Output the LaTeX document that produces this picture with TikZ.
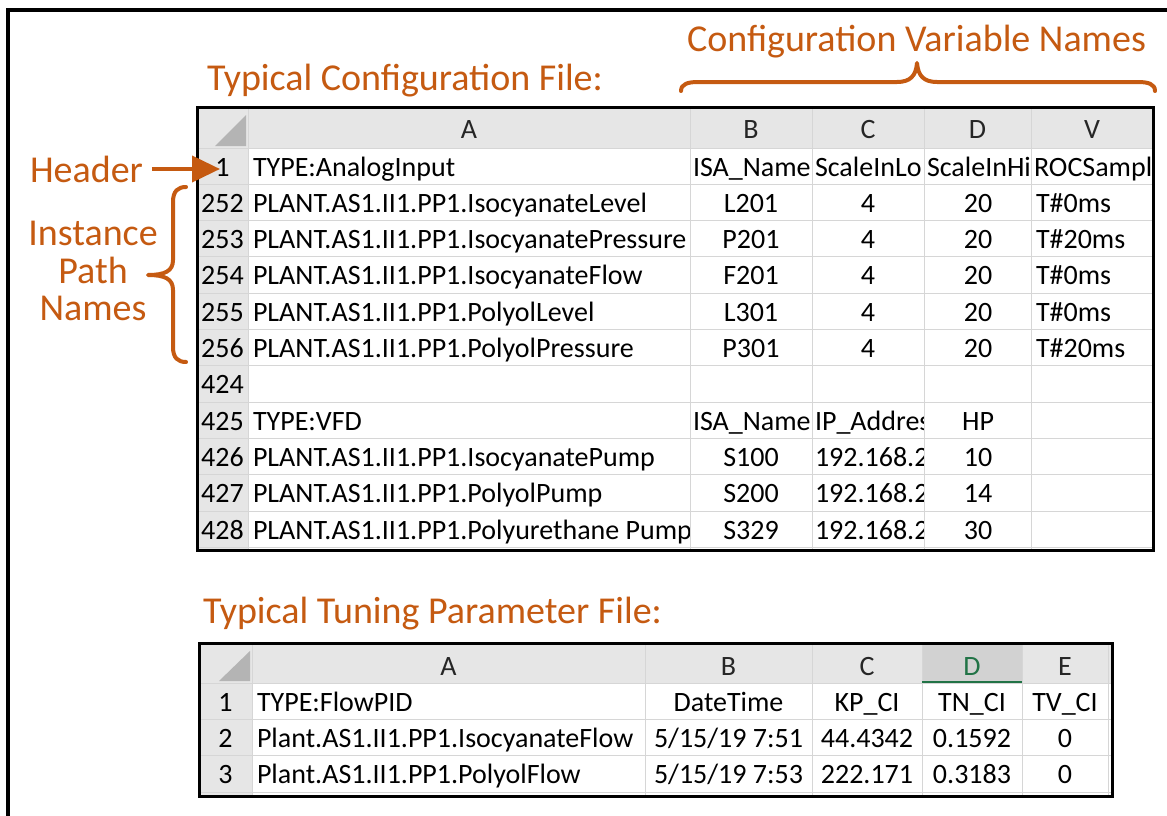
\documentclass[tikz,border=0pt]{standalone}
\usepackage{fontspec}
\setmainfont{Carlito}
\usetikzlibrary{arrows.meta}
\definecolor{org}{RGB}{197,90,17}
\definecolor{hdrbg}{RGB}{230,230,230}
\definecolor{hdsel}{RGB}{210,210,210}
\definecolor{gridc}{RGB}{214,214,214}
\definecolor{cornergray}{RGB}{180,180,180}
\definecolor{hdtext}{RGB}{38,38,38}
\definecolor{xlgreen}{RGB}{33,115,70}
\newcommand\cellfont{\fontsize{28}{32}\selectfont}
\newcommand\lblfont{\fontsize{38}{40}\selectfont}
\tikzset{
  xcell/.style={font=\cellfont, text=black, inner sep=0pt, outer sep=0pt},
  colhd/.style={font=\cellfont, text=hdtext, inner sep=0pt, outer sep=0pt, anchor=base},
  lbl/.style={font=\lblfont, text=org, inner sep=0pt, outer sep=0pt},
  gridln/.style={draw=gridc, line width=1pt},
  tblborder/.style={draw=black, line width=3pt},
  arr/.style={draw=org, line width=4pt, -{Triangle[length=28pt,width=26pt]}},
  bracestyle/.style={draw=org, line width=4pt, line cap=round, line join=round},
}
\begin{document}
\begin{tikzpicture}[x=1pt,y=-1pt]
\useasboundingbox (0,0) rectangle (1167,816);
\fill[white] (0,0) rectangle (1167,816);
% outer frame
\draw[line width=4pt] (8,830) -- (8,10) -- (1180,10);

% ================= Table 1 =================
\fill[white] (197,107) rectangle (1153,550);
\fill[hdrbg] (197,107) rectangle (1153,148);
\fill[hdrbg] (197,148) rectangle (248,550);
\fill[cornergray] (215,146) -- (246,146) -- (246,115) -- cycle;
\foreach \x in {248,690,812,924,1031} \draw[gridln] (\x,107) -- (\x,550);
\foreach \i in {0,...,11} \draw[gridln] (197,{148+36.3*\i}) -- (1153,{148+36.3*\i});
% column letters
\node[colhd] (t1hA) at (469,138) {A};
\node[colhd] (t1hB) at (751,138) {B};
\node[colhd] (t1hC) at (868,138) {C};
\node[colhd] (t1hD) at (977.5,138) {D};
\node[colhd] (t1hV) at (1092,138) {V};
% row numbers
\foreach \i/\n in {0/1,1/252,2/253,3/254,4/255,5/256,6/424,7/425,8/426,9/427,10/428}
  \node[xcell, anchor=base] (t1n\i) at (222.5,{176+36.3*\i}) {\n};
% column A
\begin{scope}
\clip (248,148) rectangle (689,550);
\foreach \i/\t in {0/TYPE:AnalogInput,
  1/PLANT.AS1.II1.PP1.IsocyanateLevel,
  2/PLANT.AS1.II1.PP1.IsocyanatePressure,
  3/PLANT.AS1.II1.PP1.IsocyanateFlow,
  4/PLANT.AS1.II1.PP1.PolyolLevel,
  5/PLANT.AS1.II1.PP1.PolyolPressure,
  7/TYPE:VFD,
  8/PLANT.AS1.II1.PP1.IsocyanatePump,
  9/PLANT.AS1.II1.PP1.PolyolPump,
  10/PLANT.AS1.II1.PP1.Polyurethane Pump}
  \node[xcell, anchor=base west] (t1a\i) at (253,{176+36.3*\i}) {\t};
\end{scope}
% column B
\node[xcell, anchor=base west] (t1b0) at (693,176) {ISA\_Name};
\node[xcell, anchor=base west] (t1b7) at (693,{176+36.3*7}) {ISA\_Name};
\foreach \i/\t in {1/L201,2/P201,3/F201,4/L301,5/P301,8/S100,9/S200,10/S329}
  \node[xcell, anchor=base] (t1b\i) at (751,{176+36.3*\i}) {\t};
% column C
\node[xcell, anchor=base west] (t1c0) at (815,176) {ScaleInLo};
\foreach \i in {1,...,5}
  \node[xcell, anchor=base] (t1c\i) at (868,{176+36.3*\i}) {4};
\begin{scope}
\clip (812,148) rectangle (923,550);
\node[xcell, anchor=base west] (t1c7) at (815,{176+36.3*7}) {IP\_Addres};
\foreach \i in {8,9,10}
  \node[xcell, anchor=base west] (t1c\i) at (815,{176+36.3*\i}) {192.168.2};
\end{scope}
% column D
\node[xcell, anchor=base west] (t1d0) at (927,176) {ScaleInHi};
\foreach \i in {1,...,5}
  \node[xcell, anchor=base] (t1d\i) at (978,{176+36.3*\i}) {20};
\foreach \i/\t in {7/HP,8/10,9/14,10/30}
  \node[xcell, anchor=base] (t1d\i) at (978,{176+36.3*\i}) {\t};
% column V
\node[xcell, anchor=base west] (t1v0) at (1034,176) {ROCSampl};
\foreach \i/\t in {1/T\#0ms,2/T\#20ms,3/T\#0ms,4/T\#0ms,5/T\#20ms}
  \node[xcell, anchor=base west] (t1v\i) at (1036,{176+36.3*\i}) {\t};
\draw[tblborder] (197,107) rectangle (1153,550);

% ================= Table 2 =================
\fill[white] (199,643) rectangle (1112,796);
\fill[hdrbg] (199,643) rectangle (1112,683);
\fill[hdrbg] (199,683) rectangle (252,796);
\fill[hdsel] (922,643) rectangle (1022,683);
\fill[cornergray] (219,681) -- (250,681) -- (250,651) -- cycle;
\foreach \x in {252,645,812,922,1022,1108} \draw[gridln] (\x,643) -- (\x,796);
\foreach \y in {683,719.3,755.6,792} \draw[gridln] (199,\y) -- (1112,\y);
\draw[xlgreen, line width=2pt] (922,682) -- (1022,682);
\node[colhd] (t2hA) at (448.5,675) {A};
\node[colhd] (t2hB) at (728.5,675) {B};
\node[colhd] (t2hC) at (867,675) {C};
\node[colhd, text=xlgreen] (t2hD) at (972,675) {D};
\node[colhd] (t2hE) at (1065,675) {E};
\foreach \i/\y/\n/\a/\b/\c/\d/\e in {
  1/711/1/TYPE:FlowPID/DateTime/KP\_CI/TN\_CI/TV\_CI,
  2/747.3/2/Plant.AS1.II1.PP1.IsocyanateFlow/5\slash15\slash19 7:51/44.4342/0.1592/0,
  3/783.6/3/Plant.AS1.II1.PP1.PolyolFlow/5\slash15\slash19 7:53/222.171/0.3183/0}{
  \node[xcell, anchor=base] (t2n\i) at (225.5,\y) {\n};
  \node[xcell, anchor=base west] (t2a\i) at (257,\y) {\a};
  \node[xcell, anchor=base] (t2b\i) at (728.5,\y) {\b};
  \node[xcell, anchor=base] (t2c\i) at (867,\y) {\c};
  \node[xcell, anchor=base] (t2d\i) at (972,\y) {\d};
  \node[xcell, anchor=base] (t2e\i) at (1065,\y) {\e};
}
\draw[tblborder] (199,643) rectangle (1112,796);

% ================= Orange annotations =================
\node[lbl, anchor=base west] (title1) at (207,91) {Typical Configuration File:};
\node[lbl, anchor=base west] (cvn) at (687,52) {Configuration Variable Names};
\node[lbl, anchor=base west] (title2) at (203,623) {Typical Tuning Parameter File:};
\node[lbl, anchor=base west] (hdr) at (30,182) {Header};
\node[lbl, anchor=base] (ipn1) at (93,245) {Instance};
\node[lbl, anchor=base] (ipn2) at (93,283) {Path};
\node[lbl, anchor=base] (ipn3) at (93,320) {Names};
\coordinate (hdrtip) at (220,169);
\draw[arr, shorten <=9pt] (hdr.east |- hdrtip) -- (hdrtip);
% braces
\draw[bracestyle] (681,91) .. controls (681,84) and (688,82) .. (698,82) -- (897,82)
  .. controls (910,82) and (916,76) .. (917,63)
  .. controls (918,76) and (924,82) .. (937,82) -- (1138,82)
  .. controls (1148,82) and (1155,84) .. (1155,91);
\draw[bracestyle] (186,187) .. controls (178,187) and (173,191) .. (173,202) -- (173,260)
  .. controls (173,271) and (165,275) .. (148,275)
  .. controls (165,275) and (173,279) .. (173,290) -- (173,347)
  .. controls (173,358) and (178,362) .. (186,362);
\end{tikzpicture}
\end{document}
